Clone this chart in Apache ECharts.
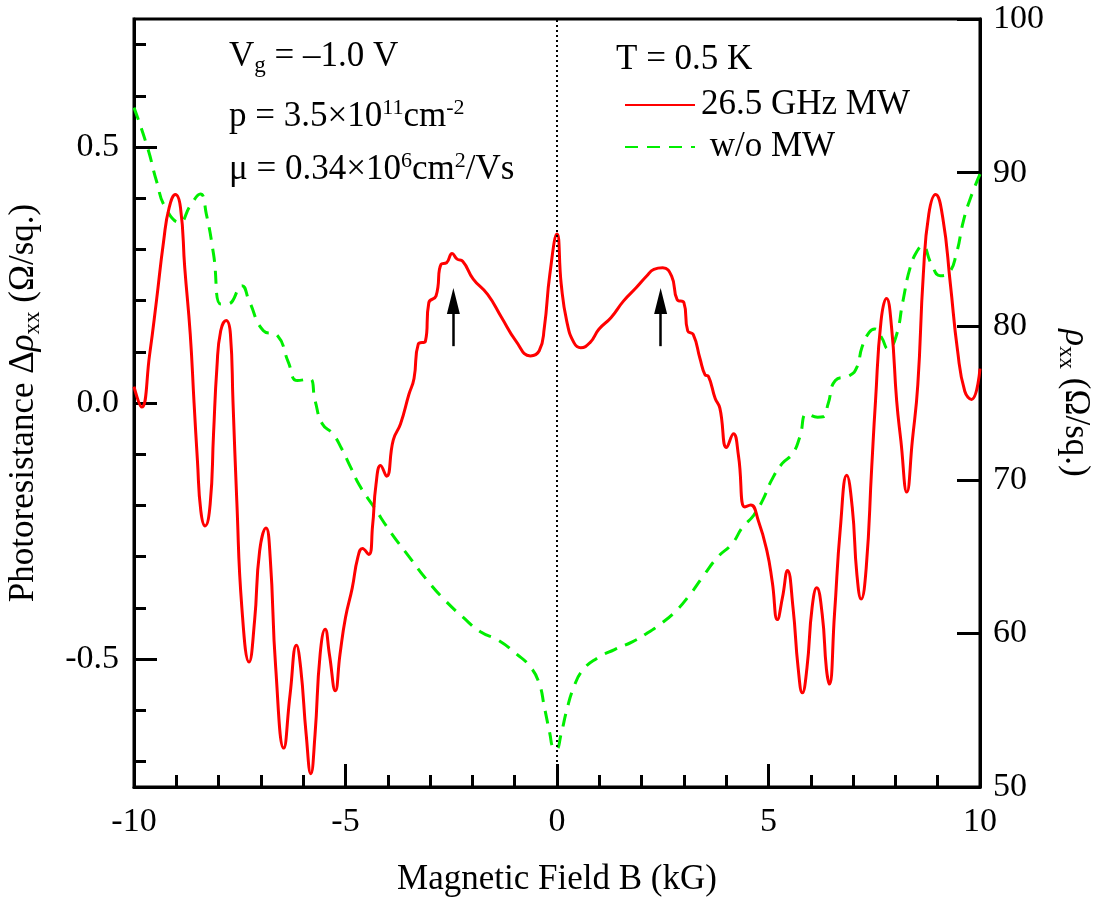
<!DOCTYPE html>
<html>
<head>
<meta charset="utf-8">
<script src="https://cdn.jsdelivr.net/npm/echarts@6/dist/echarts.min.js"></script>
<style>
  html, body { margin: 0; padding: 0; background: #fff; }
  #chart { width: 1096px; height: 899px; }
</style>
</head>
<body>
<div id="chart"></div>
<script>
// Magnetic field B (kG) and photoresistance Δρxx (Ω/sq.) under 26.5 GHz microwaves
const mwField = [
  -10.00, -9.82, -9.63, -9.47, -9.30, -9.17, -9.02, -8.90, -8.80, -8.67, -8.58, -8.50, -8.42, -8.32,
  -8.20, -8.12, -8.04, -7.95, -7.82, -7.72, -7.66, -7.57, -7.45, -7.28, -7.15, -7.03, -6.88, -6.78,
  -6.65, -6.46, -6.31, -6.16, -6.06, -5.93, -5.82, -5.72, -5.60, -5.48, -5.38, -5.24, -5.13, -5.00,
  -4.84, -4.71, -4.60, -4.45, -4.36, -4.28, -4.17, -4.03, -3.87, -3.70, -3.50, -3.38, -3.28,
  -3.11, -3.03, -2.86, -2.74, -2.61, -2.48, -2.36, -2.23, -1.98, -1.64, -1.31, -0.97, -0.63, -0.42,
  -0.30, -0.17, 0.00, 0.10, 0.23, 0.40, 0.56, 0.78, 0.99, 1.28, 1.57, 1.87, 2.12, 2.29, 2.50, 2.71,
  2.84, 3.00, 3.09, 3.22, 3.38, 3.50, 3.58, 3.74, 3.85, 4.01, 4.17, 4.29, 4.44, 4.58, 4.76, 4.96,
  5.09, 5.21, 5.33, 5.45, 5.58, 5.70, 5.80, 5.91, 6.03, 6.14, 6.27, 6.37, 6.44, 6.56, 6.70, 6.85,
  6.98, 7.09, 7.19, 7.31, 7.44, 7.53, 7.66, 7.79, 7.91, 8.03, 8.13, 8.27, 8.40, 8.53, 8.66, 8.79,
  8.95, 9.12, 9.30, 9.47, 9.64, 9.80, 10.00
];
const mwPhotoresistance = [
  0.032, -0.008, 0.095, 0.199, 0.316, 0.381, 0.407, 0.381, 0.264, 0.134, 0.000, -0.113, -0.211, -0.240,
  -0.198, -0.061, 0.069, 0.141, 0.161, 0.134, 0.003, -0.191, -0.400, -0.506, -0.426, -0.289, -0.244, -0.302,
  -0.517, -0.674, -0.569, -0.473, -0.517, -0.647, -0.724, -0.647, -0.491, -0.442, -0.491, -0.562, -0.491, -0.419,
  -0.361, -0.302, -0.284, -0.296, -0.240, -0.160, -0.122, -0.143, -0.072, -0.041, 0.017, 0.048, 0.115,
  0.121, 0.196, 0.209, 0.271, 0.274, 0.292, 0.281, 0.277, 0.242, 0.212, 0.167, 0.121, 0.092, 0.102,
  0.147, 0.251, 0.330, 0.232, 0.160, 0.118, 0.108, 0.118, 0.144, 0.167, 0.199, 0.225, 0.248, 0.261, 0.264, 0.248,
  0.202, 0.196, 0.141, 0.134, 0.087, 0.055, 0.052, 0.009, -0.010, -0.087, -0.060, -0.103, -0.203, -0.199, -0.230, -0.288,
  -0.350, -0.423, -0.380, -0.327, -0.400, -0.517, -0.566, -0.517, -0.400, -0.361, -0.413, -0.520, -0.549, -0.413, -0.243, -0.141,
  -0.204, -0.335, -0.383, -0.322, -0.126, 0.004, 0.160, 0.204, 0.147, 0.004, -0.074, -0.174, -0.074, 0.036, 0.251, 0.369,
  0.407, 0.362, 0.232, 0.102, 0.023, 0.007, 0.067
];

// Magnetic field B (kG) and dark resistivity ρxx (Ω/sq.) without microwaves
const darkField = [
  -10.00, -9.68, -9.47, -9.26, -8.92, -8.67, -8.43, -8.29, -8.12, -7.95, -7.78, -7.45, -7.28, -6.94,
  -6.61, -6.35, -6.14, -5.85, -5.72, -5.55, -5.30, -5.09, -4.88, -4.67, -4.33, -3.91, -3.49, -3.07,
  -2.65, -2.23, -1.81, -1.39, -0.97, -0.63, -0.42, -0.30, -0.17, -0.09, -0.02, 0.10, 0.23, 0.40,
  0.61, 0.94, 1.36, 1.78, 2.12, 2.46, 2.79, 3.13, 3.47, 3.80, 4.14, 4.39, 4.65, 4.86, 5.07, 5.32,
  5.57, 5.74, 5.91, 6.16, 6.29, 6.41, 6.58, 6.92, 7.09, 7.21, 7.38, 7.51, 7.67, 7.83, 8.01, 8.18,
  8.35, 8.52, 8.64, 8.85, 9.06, 9.27, 9.44, 9.61, 9.78, 10.00
];
const darkResistivity = [
  94.23, 91.63, 89.47, 87.73, 86.76, 87.84, 88.60, 87.30, 84.70, 81.45, 81.45, 82.64, 81.66, 79.71,
  79.39, 77.65, 76.46, 76.57, 75.16, 73.65, 73.00, 72.02, 70.83, 69.64, 68.23, 66.50, 64.97, 63.46,
  62.16, 61.07, 60.10, 59.56, 58.69, 57.82, 56.74, 55.22, 53.49, 52.52, 52.45, 53.49, 55.00, 56.52,
  57.61, 58.37, 58.95, 59.45, 59.99, 60.64, 61.40, 62.48, 63.78, 64.97, 65.84, 66.92, 67.69, 68.66, 69.96, 71.05,
  71.70, 72.78, 74.30, 74.08, 74.10, 74.95, 76.46, 76.79, 77.33, 78.63, 79.60, 79.82, 79.28, 78.52, 79.28, 81.66,
  83.83, 84.92, 85.24, 84.05, 83.29, 83.50, 84.70, 86.87, 88.38, 89.90
];

// Arrows marking the broad maxima, pointing upward (B, Δρxx from tail to head)
const arrowField = [-2.45, 2.45];
const arrowTail = 0.111;
const arrowHead = 0.199;

// Axis ticks and labels
const fieldTicks = [-10, -5, 0, 5, 10];
const leftMajorTicks = [-0.5, 0.0, 0.5];
const leftMinorTicks = [-0.7, -0.6, -0.4, -0.3, -0.2, -0.1, 0.1, 0.2, 0.3, 0.4, 0.6, 0.7];
const rightTicks = [50, 60, 70, 80, 90, 100];

const seriesNames = ['26.5 GHz MW', ' w/o MW'];

const FONT = "'Liberation Serif', 'Times New Roman', serif";
const BLACK = '#000';
const RED = '#ff0000';
const GREEN = '#00ee00';

const zip = (xs, ys) => xs.map((x, i) => [x, ys[i]]);

const subStyle = { fontFamily: FONT, fontSize: 23, color: BLACK, lineHeight: 23, padding: [17, 0, 0, 0] };
const supStyle = { fontFamily: FONT, fontSize: 22, color: BLACK, lineHeight: 22, padding: [0, 0, 18, 0] };
const baseRich = {
  sub: subStyle,
  sup: supStyle,
  i: { fontFamily: FONT, fontSize: 35, fontStyle: 'italic', color: BLACK, lineHeight: 40 }
};

const chart = echarts.init(document.getElementById('chart'), null, { renderer: 'canvas' });

const arrowLines = arrowField.map(b => [
  { coord: [b, arrowTail], symbol: 'none', lineStyle: { type: 'solid', color: BLACK, width: 2.5 } },
  { coord: [b, arrowHead], symbol: 'triangle', symbolSize: [13, 26] }
]);

function annotation(text, x, y) {
  return {
    type: 'text',
    x: x,
    y: y,
    silent: true,
    style: {
      text: text,
      fill: BLACK,
      font: '35px ' + FONT,
      fontFamily: FONT,
      fontSize: 35,
      lineHeight: 40,
      verticalAlign: 'middle',
      align: 'left',
      rich: baseRich
    }
  };
}

const option = {
  animation: false,
  backgroundColor: '#fff',
  grid: {
    left: 134, right: 116, top: 19, bottom: 112,
    outerBoundsMode: 'none',
    containLabel: false,
    show: true, borderColor: BLACK, borderWidth: 3, backgroundColor: 'transparent'
  },
  legend: {
    data: seriesNames,
    orient: 'vertical',
    left: 619,
    top: 79,
    itemWidth: 70,
    itemHeight: 14,
    itemGap: 0,
    selectedMode: false,
    itemStyle: { opacity: 0 },
    textStyle: { fontFamily: FONT, fontSize: 35, color: BLACK, lineHeight: 42, padding: [0, 0, 0, 1] }
  },
  xAxis: {
    type: 'value',
    min: fieldTicks[0],
    max: fieldTicks[fieldTicks.length - 1],
    interval: 5,
    axisLine: { onZero: false, lineStyle: { color: BLACK, width: 3 } },
    axisTick: { inside: true, length: 23, lineStyle: { color: BLACK, width: 3 } },
    minorTick: { show: true, splitNumber: 5, length: 12, lineStyle: { color: BLACK, width: 3 } },
    splitLine: { show: false },
    minorSplitLine: { show: false },
    axisLabel: { margin: 18, fontFamily: FONT, fontSize: 34, color: BLACK },
    name: 'Magnetic Field B (kG)',
    nameLocation: 'middle',
    nameGap: 75,
    nameTextStyle: { fontFamily: FONT, fontSize: 35, color: BLACK }
  },
  yAxis: [
    {
      type: 'value',
      position: 'left',
      min: -0.75,
      max: 0.75,
      axisLine: { show: true, onZero: false, lineStyle: { color: BLACK, width: 3 } },
      axisTick: { show: true, inside: true, length: 23, customValues: leftMajorTicks, lineStyle: { color: BLACK, width: 3 } },
      axisLabel: {
        customValues: leftMajorTicks,
        formatter: v => v.toFixed(1),
        margin: 15, fontFamily: FONT, fontSize: 34, color: BLACK
      },
      splitLine: { show: false },
      name: 'Photoresistance Δ{i|ρ}{sub|xx} (Ω/sq.)',
      nameLocation: 'middle',
      nameRotate: 90,
      nameGap: 90,
      nameTextStyle: { fontFamily: FONT, fontSize: 35, color: BLACK, lineHeight: 40, rich: baseRich }
    },
    {
      type: 'value',
      position: 'left',
      min: -0.75,
      max: 0.75,
      axisLine: { show: false, onZero: false },
      axisTick: { show: true, inside: true, length: 12, customValues: leftMinorTicks, lineStyle: { color: BLACK, width: 3 } },
      axisLabel: { show: false },
      splitLine: { show: false }
    },
    {
      type: 'value',
      position: 'right',
      min: rightTicks[0],
      max: rightTicks[rightTicks.length - 1],
      interval: 10,
      axisLine: { show: true, onZero: false, lineStyle: { color: BLACK, width: 3 } },
      axisTick: { show: true, inside: true, length: 23, lineStyle: { color: BLACK, width: 3 } },
      axisLabel: { margin: 13, fontFamily: FONT, fontSize: 34, color: BLACK },
      splitLine: { show: false },
      name: '{i|ρ}{sub|xx} (Ω/sq.)',
      nameLocation: 'middle',
      nameRotate: -90,
      nameGap: 72,
      nameTextStyle: { fontFamily: FONT, fontSize: 35, color: BLACK, lineHeight: 40, rich: baseRich }
    }
  ],
  series: [
    {
      name: seriesNames[1],
      type: 'line',
      yAxisIndex: 2,
      data: zip(darkField, darkResistivity),
      showSymbol: false,
      symbol: 'none',
      smooth: 0.5,
      lineStyle: { color: GREEN, width: 3, type: [13, 9] },
      itemStyle: { color: GREEN },
      z: 2
    },
    {
      name: seriesNames[0],
      type: 'line',
      yAxisIndex: 0,
      data: zip(mwField, mwPhotoresistance),
      showSymbol: false,
      symbol: 'none',
      smooth: 0.5,
      lineStyle: { color: RED, width: 3 },
      itemStyle: { color: RED },
      z: 3,
      markLine: {
        silent: true,
        animation: false,
        symbol: ['none', 'none'],
        label: { show: false },
        emphasis: { disabled: true },
        data: [
          { xAxis: 0, lineStyle: { type: [2, 3], color: BLACK, width: 2 } }
        ].concat(arrowLines)
      }
    }
  ],
  graphic: [
    annotation('V{sub|g} = –1.0 V', 229, 57),
    annotation('p = 3.5×10{sup|11}cm{sup|-2}', 229, 117),
    annotation('μ = 0.34×10{sup|6}cm{sup|2}/Vs', 229, 170),
    annotation('T = 0.5 K', 616, 60)
  ]
};

chart.setOption(option);
</script>
</body>
</html>
